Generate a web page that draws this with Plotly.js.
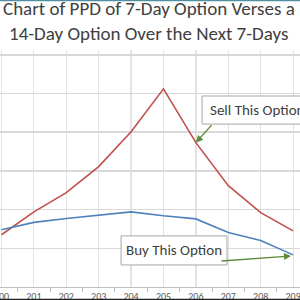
<!DOCTYPE html>
<html>
<head>
<meta charset="utf-8">
<script src="https://cdn.plot.ly/plotly-3.0.1.min.js"></script>
<style>html,body{margin:0;padding:0;background:#fff;}#chart{width:300px;height:300px;}</style>
</head>
<body>
<div id="chart"></div>
<script>
// Data (y-axis labels are cropped off in the reference; values estimated on a 0.1-per-gridline scale)
const strikes = [200, 201, 202, 203, 204, 205, 206, 207, 208, 209];
const sellSeries = [0.135, 0.194, 0.244, 0.311, 0.401, 0.512, 0.373, 0.262, 0.192, 0.145];
const buySeries  = [0.148, 0.167, 0.177, 0.185, 0.194, 0.184, 0.176, 0.141, 0.120, 0.083];
const titleLines = ["Chart of PPD of 7-Day Option Verses a", "14-Day Option Over the Next 7-Days"];
const sellLabel = "Sell This Option";
const buyLabel = "Buy This Option";

const FONT = "Carlito, Lato, sans-serif";
const GREEN = "#5e8c3a";

const traces = [
  {x: strikes, y: sellSeries, type: "scatter", mode: "lines",
   line: {color: "#c0504d", width: 1.6}, hoverinfo: "skip"},
  {x: strikes, y: buySeries, type: "scatter", mode: "lines",
   line: {color: "#4f81bd", width: 1.6}, hoverinfo: "skip"}
];

const layout = {
  width: 300, height: 300,
  margin: {l: 0, r: 0, t: 50, b: 13, pad: 0},
  paper_bgcolor: "#fff", plot_bgcolor: "#fff",
  showlegend: false,
  font: {family: FONT, color: "#404040"},
  xaxis: {
    type: "linear", range: [199.954, 209.213],
    tickmode: "array", tickvals: strikes, ticktext: strikes.map(String),
    showgrid: true, gridcolor: "#e3e3e3", gridwidth: 1.2,
    zeroline: false, showline: true, linecolor: "#bfbfbf", linewidth: 1,
    ticks: "", tickfont: {size: 10, color: "#595959", family: FONT},
    ticklabeloverflow: "allow",
    minor: {tickmode: "array", tickvals: strikes.slice(0, -1).map(v => v + 0.5),
            ticks: "outside", ticklen: 4, tickcolor: "#bfbfbf", showgrid: false},
    fixedrange: true
  },
  yaxis: {
    range: [0, 0.6124], dtick: 0.1, tick0: 0,
    showgrid: true, gridcolor: "#d9d9d9", gridwidth: 1.5,
    zeroline: false, showticklabels: false, ticks: "", fixedrange: true
  },
  shapes: [
    {type: "rect", xref: "x", yref: "y", x0: 206.19, x1: 209.6, y0: 0.421, y1: 0.4935,
     fillcolor: "#fff", line: {color: "#a6a6a6", width: 1}, layer: "above"},
    {type: "rect", xref: "x", yref: "y", x0: 203.69, x1: 206.96, y0: 0.057, y1: 0.132,
     fillcolor: "#fff", line: {color: "#a6a6a6", width: 1}, layer: "above"},
    {type: "line", xref: "paper", yref: "paper", x0: 0, x1: 1, y0: 1.209, y1: 1.209,
     line: {color: "#4f8fa0", width: 1.5}},
    {type: "line", xref: "paper", yref: "paper", x0: 0, x1: 1, y0: -0.053, y1: -0.053,
     line: {color: "#222", width: 1.5}}
  ],
  annotations: [
    {xref: "paper", yref: "paper", x: 0.495, y: 1.175, xanchor: "center", yanchor: "middle",
     text: titleLines[0], showarrow: false, font: {size: 19, color: "#404040", family: FONT}},
    {xref: "paper", yref: "paper", x: 0.495, y: 1.07, xanchor: "center", yanchor: "middle",
     text: titleLines[1], showarrow: false, font: {size: 19, color: "#404040", family: FONT}},
    {xref: "x", yref: "y", x: 206.37, y: 0.457, xanchor: "left", yanchor: "middle",
     text: sellLabel, showarrow: false, font: {size: 15, color: "#404040", family: FONT}},
    {xref: "x", yref: "y", x: 205.32, y: 0.095, xanchor: "center", yanchor: "middle",
     text: buyLabel, showarrow: false, font: {size: 15, color: "#404040", family: FONT}},
    {xref: "x", yref: "y", x: strikes[6], y: sellSeries[6], ax: 17, ay: -19, text: "",
     showarrow: true, arrowhead: 2, arrowsize: 1, arrowwidth: 1.4, arrowcolor: GREEN},
    {xref: "x", yref: "y", x: 208.935, y: 0.080, ax: -71, ay: 5, text: "",
     showarrow: true, arrowhead: 2, arrowsize: 1, arrowwidth: 1.4, arrowcolor: GREEN}
  ]
};

Plotly.newPlot("chart", traces, layout, {staticPlot: true, displayModeBar: false});
</script>
</body>
</html>
